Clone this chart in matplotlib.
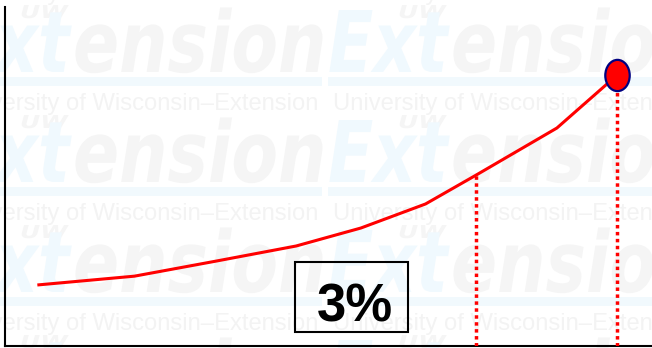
import matplotlib
matplotlib.use("Agg")
import matplotlib.pyplot as plt
from matplotlib.textpath import TextPath
from matplotlib.patches import PathPatch, Rectangle
from matplotlib.font_manager import FontProperties
from matplotlib.transforms import Affine2D
from matplotlib.path import Path
import numpy as np

# Growth curve (arbitrary time units vs. value)
years = [5, 20, 32.5, 45, 55, 65, 72.8, 85.3, 94.6]
values = [18.0, 20.6, 25.0, 29.5, 34.8, 41.9, 50.4, 64.3, 79.9]
marked_idx = [6, 8]          # points with a drop line
end_idx = 8                  # point drawn with the big marker
rate_label = "3%"

W, H = 652, 348
fig = plt.figure(figsize=(W / 100, H / 100), dpi=100)
fig.patch.set_facecolor("white")

# ---- background watermark, drawn in pixel coordinates ----
bg = fig.add_axes([0, 0, 1, 1])
bg.set_xlim(0, W)
bg.set_ylim(H, 0)
bg.axis("off")

logo_font = FontProperties(family="DejaVu Sans", weight="bold", style="oblique")
GRAY_BIG = "#f5f5f5"
GRAY_TXT = "#f3f3f3"
BLUE = "#f0f9fe"
BAR = "#f1f9fd"


def logo_text(s, x, baseline, em_y, sx, color):
    tp = TextPath((0, 0), s, size=1, prop=logo_font)
    tr = Affine2D().scale(em_y * sx, -em_y).translate(x, baseline) + bg.transData
    bg.add_patch(PathPatch(tp, transform=tr, fc=color, ec="none", lw=0, zorder=1))


def tile(ox, oy):
    logo_text("UW", ox + 65, oy + 18, 17.8, 1.4, GRAY_BIG)
    logo_text("Ext", ox - 5, oy + 72, 85, 0.78, BLUE)
    logo_text("ension", ox + 118, oy + 72, 85, 0.80, GRAY_BIG)
    bg.add_patch(Rectangle((ox - 5, oy + 77), 372, 9, fc=BAR, ec="none", zorder=1))
    bg.text(ox, oy + 110, "University of Wisconsin\u2013Extension",
            family="Liberation Sans", fontsize=17.1, color=GRAY_TXT,
            ha="left", va="baseline", zorder=2)


for oy in (-110, 0, 110, 220, 330):
    for ox in (-45, 333):
        tile(ox, oy)

# ---- main chart ----
ax = fig.add_axes([5 / W, 2 / H, 647 / W, 339 / H])
ax.patch.set_alpha(0)
ax.set_xlim(0, 100)
ax.set_ylim(0, 100)
for side in ("top", "right"):
    ax.spines[side].set_visible(False)
for side in ("left", "bottom"):
    ax.spines[side].set_linewidth(1.5)
    ax.spines[side].set_color("black")
ax.set_xticks([])
ax.set_yticks([])

ax.plot(years, values, color="#ff0000", lw=2.2, solid_capstyle="butt", zorder=3)

for i in marked_idx:
    ax.plot([years[i], years[i]], [0, values[i]], color="#ff0000", lw=2.5,
            linestyle=(0, (1, 1)), dash_capstyle="butt", zorder=3)

# slightly tall elliptical end marker
circ = Path.unit_circle()
ellipse = Path(circ.vertices * np.array([1.0, 1.28]), circ.codes)
ax.plot([years[end_idx]], [values[end_idx]], marker=ellipse, ms=22.5,
        mfc="#ff0000", mec="#000080", mew=1.6, linestyle="none", zorder=4)

# rate label box
ax.add_patch(Rectangle((0.448, 0.041), 0.175, 0.206, transform=ax.transAxes,
                       fc="none", ec="black", lw=1.5, zorder=5))
ax.text(0.541, 0.0708, rate_label, transform=ax.transAxes, ha="center",
        va="baseline", family="Liberation Sans", weight="bold", fontsize=38,
        color="black", zorder=6)

fig.savefig("out.png", dpi=100)
